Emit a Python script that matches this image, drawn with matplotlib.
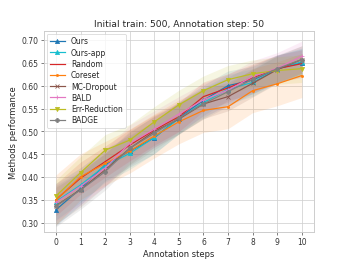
import matplotlib
matplotlib.use("Agg")
import matplotlib.pyplot as plt
import numpy as np

steps = list(range(11))
methods = ["Ours", "Ours-app", "Random", "Coreset", "MC-Dropout", "BALD", "Err-Reduction", "BADGE"]

ours      = [0.329, 0.375, 0.427, 0.457, 0.486, 0.530, 0.568, 0.600, 0.612, 0.637, 0.650]
ours_app  = [0.347, 0.383, 0.425, 0.452, 0.487, 0.528, 0.563, 0.592, 0.607, 0.636, 0.652]
random_   = [0.351, 0.398, 0.434, 0.470, 0.503, 0.532, 0.576, 0.595, 0.617, 0.637, 0.648]
coreset   = [0.350, 0.401, 0.430, 0.457, 0.490, 0.521, 0.546, 0.554, 0.589, 0.604, 0.622]
mc_drop   = [0.338, 0.373, 0.416, 0.463, 0.500, 0.527, 0.560, 0.576, 0.605, 0.635, 0.657]
bald      = [0.345, 0.380, 0.420, 0.474, 0.505, 0.538, 0.569, 0.590, 0.620, 0.638, 0.664]
err_red   = [0.359, 0.410, 0.459, 0.481, 0.521, 0.558, 0.589, 0.613, 0.626, 0.633, 0.637]
badge     = [0.337, 0.372, 0.412, 0.463, 0.496, 0.529, 0.560, 0.587, 0.614, 0.637, 0.657]

ours_std     = [0.035, 0.035, 0.035, 0.035, 0.035, 0.035, 0.033, 0.032, 0.030, 0.030, 0.030]
ours_app_std = [0.040, 0.038, 0.036, 0.035, 0.035, 0.034, 0.033, 0.032, 0.030, 0.030, 0.030]
random_std   = [0.035, 0.035, 0.034, 0.034, 0.033, 0.032, 0.032, 0.031, 0.030, 0.030, 0.030]
coreset_std  = [0.055, 0.050, 0.048, 0.048, 0.048, 0.048, 0.048, 0.048, 0.048, 0.048, 0.048]
mc_drop_std  = [0.040, 0.038, 0.036, 0.035, 0.034, 0.033, 0.032, 0.031, 0.030, 0.030, 0.030]
bald_std     = [0.040, 0.040, 0.040, 0.040, 0.040, 0.038, 0.036, 0.035, 0.034, 0.034, 0.033]
err_red_std  = [0.035, 0.035, 0.034, 0.034, 0.033, 0.032, 0.032, 0.031, 0.030, 0.030, 0.030]
badge_std    = [0.045, 0.042, 0.040, 0.038, 0.036, 0.034, 0.033, 0.032, 0.031, 0.030, 0.030]

series = [ours, ours_app, random_, coreset, mc_drop, bald, err_red, badge]
stds = [ours_std, ours_app_std, random_std, coreset_std, mc_drop_std, bald_std, err_red_std, badge_std]
colors = ["tab:blue", "tab:cyan", "tab:red", "tab:orange", "tab:brown", "tab:pink", "tab:olive", "tab:gray"]
markers = ["^", "^", None, ".", "x", "+", "v", "P"]

plt.rcParams.update({
    "font.family": "DejaVu Sans",
    "axes.edgecolor": "#cccccc",
    "axes.linewidth": 1.25,
    "grid.color": "#d0d0d0",
    "grid.linewidth": 1.0,
    "xtick.color": "#333333",
    "ytick.color": "#333333",
    "xtick.major.size": 3.5,
    "ytick.major.size": 3.5,
    "xtick.major.width": 0.8,
    "ytick.major.width": 0.8,
    "text.color": "#262626",
    "axes.labelcolor": "#262626",
})

fig, ax = plt.subplots(figsize=(6.4, 4.8), dpi=349/6.4)
x = np.array(steps)
for name, m, s, c, mk in zip(methods, series, stds, colors, markers):
    m = np.array(m); s = np.array(s)
    ax.fill_between(x, m - s, m + s, color=c, alpha=0.13, linewidth=0)
    ax.plot(x, m, color=c, marker=mk, markersize=5.5, linewidth=1.6, label=name)

ax.set_xlim(-0.5, 10.5)
ax.set_ylim(0.28, 0.72)
ax.set_xticks(steps)
ax.set_yticks(np.arange(0.30, 0.701, 0.05))
ax.grid(True)
ax.set_axisbelow(True)
ax.tick_params(labelsize=10)
ax.set_xlabel("Annotation steps", fontsize=11)
ax.set_ylabel("Methods performance", fontsize=11)
ax.set_title("Initial train: 500, Annotation step: 50", fontsize=12)
ax.legend(loc="upper left", fontsize=10, frameon=True, framealpha=0.8,
          handlelength=2.0, labelspacing=0.3, borderaxespad=0.4)
fig.savefig("out.png", dpi=349/6.4)
